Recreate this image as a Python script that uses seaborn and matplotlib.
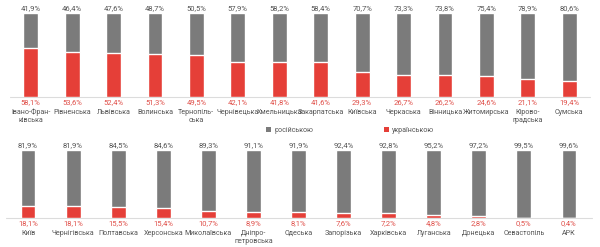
import matplotlib
matplotlib.use("Agg")
import matplotlib.pyplot as plt
from matplotlib.patches import Patch
import pandas as pd
import seaborn as sns

# Data: share of schoolchildren taught in Ukrainian / Russian (%)
top_regions = ["Івано-Фран-\nківська", "Рівненська", "Львівська", "Волинська",
               "Тернопіль-\nська", "Чернівецька", "Хмельницька", "Закарпатська",
               "Київська", "Черкаська", "Вінницька", "Житомирська",
               "Кірово-\nградська", "Сумська"]
top_ukr = [58.1, 53.6, 52.4, 51.3, 49.5, 42.1, 41.8, 41.6, 29.3, 26.7, 26.2, 24.6, 21.1, 19.4]
top_rus = [41.9, 46.4, 47.6, 48.7, 50.5, 57.9, 58.2, 58.4, 70.7, 73.3, 73.8, 75.4, 78.9, 80.6]

bottom_regions = ["Київ", "Чернігівська", "Полтавська", "Херсонська", "Миколаївська",
                  "Дніпро-\nпетровська", "Одеська", "Запорізька", "Харківська",
                  "Луганська", "Донецька", "Севастопіль", "АРК"]
bottom_ukr = [18.1, 18.1, 15.5, 15.4, 10.7, 8.9, 8.1, 7.6, 7.2, 4.8, 2.8, 0.5, 0.4]
bottom_rus = [81.9, 81.9, 84.5, 84.6, 89.3, 91.1, 91.9, 92.4, 92.8, 95.2, 97.2, 99.5, 99.6]

series_labels = ["російською", "українською"]

GRAY = "#7b7b7b"
RED = "#e53f38"
RED_TEXT = "#e0504a"
TEXT = "#555555"
FS = 5.1

sns.set_style("white")
plt.rcParams["font.family"] = ["Roboto", "DejaVu Sans"]


def fmt(v):
    return f"{v:.1f}".replace(".", ",") + "%"


def draw_row(ax, regions, ukr, rus, width):
    df = pd.DataFrame({"region": regions, "ukr": ukr, "rus": rus})
    df["total"] = df["ukr"] + df["rus"]
    # gray full bar first, red ukrainian part on top of it
    sns.barplot(data=df, x="region", y="total", color=GRAY, width=width,
                saturation=1, ax=ax)
    sns.barplot(data=df, x="region", y="ukr", color=RED, width=width,
                saturation=1, ax=ax)
    ax.set_ylim(0, df["total"].max())
    ax.axhline(0, color="#dcdcdc", lw=0.8, zorder=0.5, clip_on=False)
    for i, row in df.iterrows():
        ax.annotate(fmt(row["rus"]), (i, row["total"]), xytext=(0, 1.5),
                    textcoords="offset points", ha="center", va="bottom",
                    fontsize=FS + 0.4, color=TEXT, annotation_clip=False)
        ax.annotate(fmt(row["ukr"]), (i, 0), xytext=(0, -1.5),
                    textcoords="offset points", ha="center", va="top",
                    fontsize=FS + 0.4, color=RED_TEXT, annotation_clip=False)
    ax.set_xlabel("")
    ax.set_ylabel("")
    ax.set_yticks([])
    ax.tick_params(axis="x", length=0, pad=8.5, labelsize=FS, labelcolor=TEXT)
    for lab in ax.get_xticklabels():
        lab.set_linespacing(1.15)
    sns.despine(ax=ax, left=True, bottom=True)


fig = plt.figure(figsize=(6.0, 2.47), dpi=100)

ax_top = fig.add_axes([10 / 600, 1 - 97 / 247, 580 / 600, 84 / 247])
draw_row(ax_top, top_regions, top_ukr, top_rus, width=0.36)

ax_bot = fig.add_axes([5.5 / 600, 1 - 218 / 247, 586 / 600, 68 / 247])
draw_row(ax_bot, bottom_regions, bottom_ukr, bottom_rus, width=0.33)

handles = [Patch(facecolor=GRAY, edgecolor="none"),
           Patch(facecolor=RED, edgecolor="none")]
fig.legend(handles, series_labels, loc="center", bbox_to_anchor=(350 / 600, 1 - 130 / 247),
           ncol=2, frameon=False, fontsize=FS, labelcolor=TEXT,
           handlelength=0.7, handleheight=0.7, handletextpad=0.4, columnspacing=10)

fig.savefig("out.png", dpi=100)
plt.close(fig)
